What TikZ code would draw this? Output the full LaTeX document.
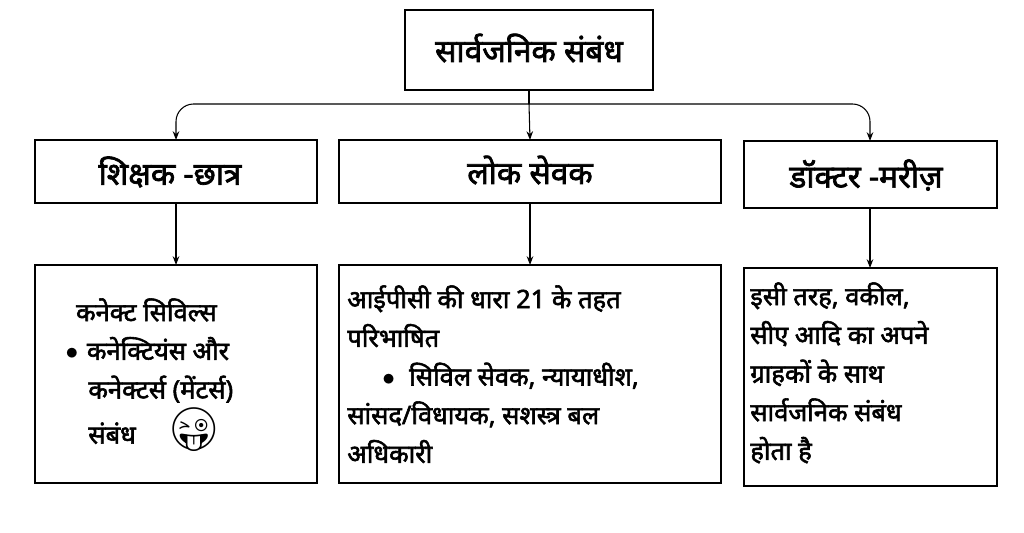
\documentclass[tikz,border=0pt]{standalone}
\usepackage{fontspec}
\setmainfont[Script=Devanagari, AutoFakeBold=2.2]{Noto Sans}
\newfontfamily\emojifont{Noto Emoji}
\usetikzlibrary{arrows.meta}
\tikzset{
  head/.style={font=\bfseries\fontsize{18}{20}\selectfont},
  body/.style={font=\bfseries\fontsize{14.5}{20}\selectfont, align=left, anchor=north west, inner sep=0pt},
  link/.style={-{Stealth[length=5pt]}, line width=0.6pt}
}
\begin{document}
\begin{tikzpicture}[x=0.02cm, y=-0.02cm]
  \useasboundingbox (0,0) rectangle (1024,533);

  % Top box
  \draw[line width=0.8pt] (405,10) rectangle (653,90);
  \node[head] (top) at (529,48) {सार्वजनिक संबंध};
  \coordinate (topS) at (529,90);

  % Second row
  \draw[line width=0.8pt] (35,140) rectangle (317,203);
  \draw[line width=0.8pt] (339,140) rectangle (721,203);
  \draw[line width=0.8pt] (744,141) rectangle (997,208);
  \node[head] (r1) at (170,172) {शिक्षक -छात्र};
  \node[head] (r2) at (530,170) {लोक सेवक};
  \node[head] (r3) at (866,175) {डॉक्टर -मरीज़};
  \coordinate (r1N) at (176,140);
  \coordinate (r2N) at (530,140);
  \coordinate (r3N) at (870,141);
  \coordinate (r1S) at (176,203);
  \coordinate (r2S) at (530,203);
  \coordinate (r3S) at (870,208);

  % Third row
  \draw[line width=0.8pt] (35,265) rectangle (317,483);
  \draw[line width=0.8pt] (339,265) rectangle (721,483);
  \draw[line width=0.8pt] (744,268) rectangle (997,486);
  \coordinate (b1N) at (176,265);
  \coordinate (b2N) at (530,265);
  \coordinate (b3N) at (870,268);

  \node[body] (b1) at (88,298) {\hspace*{-7pt}कनेक्ट सिविल्स\\[2pt]
    \hspace*{-13pt}$\bullet$\hspace{5pt}कनेक्टियंस और\\[2pt]
    कनेक्टर्स (मेंटर्स)\\[2pt]
    संबंध \hspace{14pt}{\emojifont\fontsize{24}{24}\selectfont 😜}};
  \node[body] (b2) at (347,285) {आईपीसी की धारा 21 के तहत\\[2pt]
    परिभाषित\\[2pt]
    \hspace*{20pt}$\bullet$\hspace{8pt}सिविल सेवक, न्यायाधीश,\\[2pt]
    सांसद/विधायक, सशस्त्र बल\\[2pt]
    अधिकारी};
  \node[body] (b3) at (750,282) {इसी तरह, वकील,\\[2pt]
    सीए आदि का अपने\\[2pt]
    ग्राहकों के साथ\\[2pt]
    सार्वजनिक संबंध\\[2pt]
    होता है};

  % Connectors
  \coordinate (mid) at (529,104);
  \draw[line width=0.6pt] (topS) -- (mid);
  \draw[link, rounded corners=10pt] (mid) -| (r1N);
  \draw[link, rounded corners=10pt] (mid) -| (r3N);
  \draw[link] (mid) -- (r2N);
  \draw[link] (r1S) -- (b1N);
  \draw[link] (r2S) -- (b2N);
  \draw[link] (r3S) -- (b3N);
\end{tikzpicture}
\end{document}
